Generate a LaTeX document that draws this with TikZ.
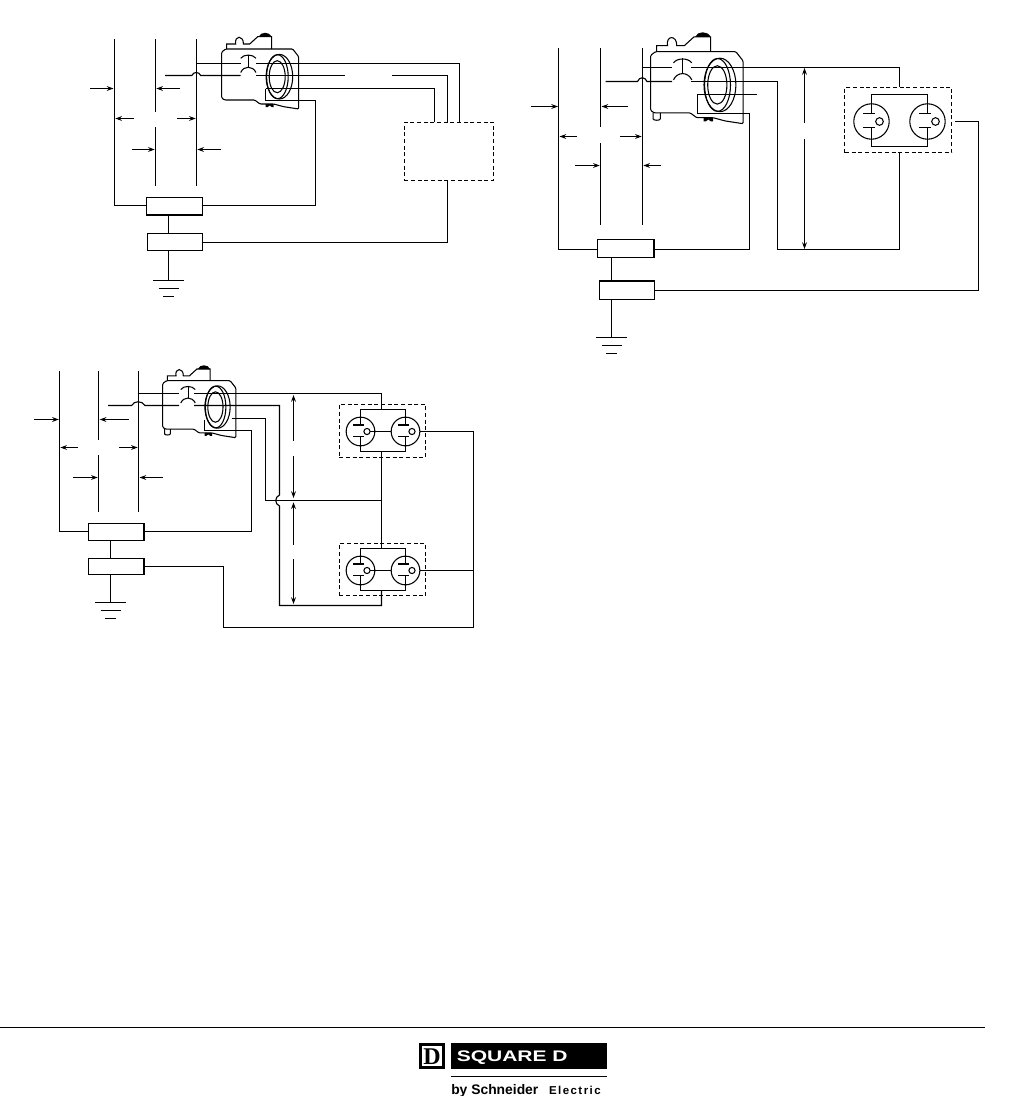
\documentclass[tikz,border=0pt]{standalone}
\usepackage{fontspec}
\usepackage{graphicx}
\setmainfont{Liberation Sans}
\newfontfamily\serifD{Liberation Serif}
\usetikzlibrary{arrows.meta}
\def\px{0.75pt}
\tikzset{
  wire/.style={line width=0.85pt,line join=miter},
  relaybox/.style={draw,line width=0.9pt,inner sep=0pt,fill=white},
  dashbox/.style={draw,line width=0.8pt,dash pattern=on 3pt off 2pt},
  dim/.style={line width=0.8pt,-{Stealth[length=5pt,width=3.6pt]}},
  thin part/.style={line width=0.8pt},
  device/.pic={
    \draw[thin part,rounded corners=0.8pt] (0,3) -- (4,0) -- (71,0) -- (77,7.7) -- (77,60) -- (62,57.7) -- (52,55) -- (38.3,55) -- (33,51) -- (3,51) -- (0,49) -- cycle;
    \draw[thin part] (5,0) -- (5,-5) -- (14,-5) .. controls (12.5,-14) and (22,-14) .. (21.7,-5) -- (28,-5) -- (36,-12.3) -- (50,-12.3) -- (50,0);
    \fill (37,-12.3) .. controls (39,-17.5) and (47.5,-17.5) .. (50,-12.3) -- cycle;
    \fill (44,55) -- (52,55) -- (52,58) -- (50,58) -- (48,56.5) -- (46,58) -- (44,58) -- cycle;
    \draw[thin part] (57.7,27.7) ellipse (13.3 and 22.3);
    \draw[thin part] (55.7,27.7) ellipse (10.8 and 22);
    \draw[thin part] (55.5,27.7) ellipse (8 and 16);
    \draw[thin part] (19,9.3) .. controls (22,5) and (31,5) .. (34.3,9.3);
    \draw[thin part] (26.7,5.5) -- (26.7,17.7);
    \draw[thin part] (19,23.5) .. controls (22,16.5) and (31,16.5) .. (34.3,23.5);
  },
  peg/.pic={
    \draw[thin part] (2,51) -- (2,56) .. controls (2,57.5) and (8,57.5) .. (8,56) -- (8,51);
  },
  lamp/.pic={
    \draw[thin part] (0,0) circle (17.7);
    \draw[thin part] (0,-17.7) -- (0,-8);
    \draw[thin part] (-8.7,-8) -- (3.7,-8);
    \draw[thin part] (-8.7,6.3) -- (3.7,6.3);
    \draw[thin part] (0,6.3) -- (0,17.7);
    \draw[thin part,fill=white] (8,0) circle (3.8);
  },
  ground/.pic={
    \draw[wire] (-15.5,0.2) -- (15.5,0.2);
    \draw[wire] (-10,8.2) -- (10,8.2);
    \draw[wire] (-5.5,16.2) -- (5.5,16.2);
  }
}
\begin{document}
\begin{tikzpicture}[x=\px,y=-\px]
\useasboundingbox (0,0) rectangle (1025,1096);

% ===== Diagram 1 =====
\coordinate (a1t) at (114.5,39); \coordinate (a1b) at (114.5,205.5);
\coordinate (b1t) at (155.5,39); \coordinate (b1m) at (155.5,111.7);
\coordinate (b1n) at (155.5,127); \coordinate (b1b) at (155.5,185.7);
\coordinate (c1t) at (196.5,39); \coordinate (c1b) at (196.5,185.7);
\draw[wire] (b1t) -- (b1m); \draw[wire] (b1n) -- (b1b); \draw[wire] (c1t) -- (c1b);
\pic at (221.7,49) {device};
\node[relaybox,minimum width=55.6*\px,minimum height=17.6*\px] (r1) at (174.5,206.2) {};
\node[relaybox,minimum width=55*\px,minimum height=16.6*\px] (s1) at (174.9,242.1) {};
\draw[wire] (a1t) -- (a1b) -- (r1.west |- a1b);
\draw[wire] (r1.south -| 168.5,0) -- (s1.north -| 168.5,0);
\coordinate (g1) at (168.5,280.3);
\draw[wire] (s1.south -| g1) -- (g1);
\pic at (g1) {ground};
\draw[dim] (90,88.5) -- (113.5,88.5);
\draw[dim] (180,88.5) -- (156.3,88.5);
\draw[dim] (134,118.5) -- (115.3,118.5);
\draw[dim] (177,118.5) -- (195.7,118.5);
\draw[dim] (132,149.5) -- (154.7,149.5);
\draw[dim] (220.7,149.5) -- (197.3,149.5);
\node[dashbox,minimum width=89.4*\px,minimum height=58*\px,inner sep=0pt] (q1) at (449,151.3) {};
% wires
\draw[wire] (c1t |- 0,63.5) -- (240.5,63.5);
\draw[wire] (256,63.5) -- (459.5,63.5) -- (459.5,122.3);
\draw[wire] (165,75.5) -- (191.8,75.5) .. controls (193.5,71.5) and (199,71.5) .. (200.7,75.5) -- (240.5,75.5);
\draw[wire] (256,75.5) -- (345,75.5);
\draw[wire] (392,75.5) -- (447.5,75.5) -- (447.5,122.3);
\draw[wire] (265.5,88.5) -- (434.5,88.5) -- (434.5,122.3);
\draw[wire] (265.5,88.5) -- (265.5,100.5) -- (315.5,100.5) -- (315.5,205.5) -- (r1.east |- 0,205.5);
\draw[wire] (s1.east |- 0,242.5) -- (447.5,242.5) -- (447.5,180.3);

% ===== Diagram 2 =====
\coordinate (a2t) at (558.5,48); \coordinate (a2b) at (558.5,249.5);
\draw[wire] (600.5,48) -- (600.5,126.7); \draw[wire] (600.5,143) -- (600.5,224.7);
\draw[wire] (642.5,48) -- (642.5,224.7);
\pic[scale=1.2] at (650.7,51.7) {device};
\pic[scale=1.2] at (650.7,51.7) {peg};
\node[relaybox,minimum width=56.7*\px,minimum height=18.4*\px] (r2) at (625.7,248.5) {};
\node[relaybox,minimum width=55*\px,minimum height=18.3*\px] (s2) at (626.9,290.2) {};
\draw[wire] (a2t) -- (a2b) -- (r2.west |- a2b);
\coordinate (g2) at (611.5,337.7);
\draw[wire] (r2.south -| g2) -- (s2.north -| g2);
\draw[wire] (s2.south -| g2) -- (g2);
\pic at (g2) {ground};
\draw[dim] (531,106.5) -- (558,106.5);
\draw[dim] (628,106.5) -- (601.5,106.5);
\draw[dim] (577,136.5) -- (559.5,136.5);
\draw[dim] (620,136.5) -- (641.7,136.5);
\draw[dim] (575,165.5) -- (599.7,165.5);
\draw[dim] (661,165.5) -- (643.3,165.5);
\node[dashbox,minimum width=106.7*\px,minimum height=65.4*\px,inner sep=0pt] (q2) at (898.3,120) {};
\coordinate (l2a) at (871.5,121.5); \coordinate (l2b) at (927.5,121.5);
\pic at (l2a) {lamp}; \pic at (l2b) {lamp};
\draw[wire] (871.5,103.8) -- (871.5,94.5) -- (927.5,94.5) -- (927.5,103.8);
\draw[wire] (871.5,139.2) -- (871.5,146.5) -- (927.5,146.5) -- (927.5,139.2);
\draw[wire] (642.5,67.5) -- (672,67.5);
\draw[wire] (691,67.5) -- (899.5,67.5) -- (899.5,87.3);
\draw[wire] (605.7,81.5) -- (637.5,81.5) .. controls (639.5,76.5) and (645,76.5) .. (647,81.5) -- (672,81.5);
\draw[wire] (691,81.5) -- (777.5,81.5) -- (777.5,249.5) -- (899.5,249.5) -- (899.5,152.7);
\draw[wire] (757,94.5) -- (697.5,94.5) -- (697.5,113.5) -- (749.5,113.5) -- (749.5,249.5) -- (r2.east |- 0,249.5);
\draw[wire] (s2.east |- 0,290.5) -- (978.5,290.5) -- (978.5,121.5) -- (955,121.5);
\draw[dim] (804.5,122.7) -- (804.5,68);
\draw[dim] (804.5,139) -- (804.5,249);

% ===== Diagram 3 =====
\coordinate (a3t) at (59.5,371); \coordinate (a3b) at (59.5,531.5);
\draw[wire] (98.5,371) -- (98.5,439.7); \draw[wire] (98.5,455) -- (98.5,511.7);
\draw[wire] (138.5,371) -- (138.5,511.7);
\pic[scale=0.95] at (162.7,380.7) {device};
\pic[scale=0.95] at (162.7,380.7) {peg};
\node[relaybox,minimum width=55.7*\px,minimum height=17.4*\px] (r3) at (116.2,532) {};
\node[relaybox,minimum width=55.7*\px,minimum height=16*\px] (s3) at (116.2,566.3) {};
\draw[wire] (a3t) -- (a3b) -- (r3.west |- a3b);
\coordinate (g3) at (110.5,602.3);
\draw[wire] (r3.south -| g3) -- (s3.north -| g3);
\draw[wire] (s3.south -| g3) -- (g3);
\pic at (g3) {ground};
\draw[dim] (34,419.5) -- (58.8,419.5);
\draw[dim] (129,419.5) -- (99.7,419.5);
\draw[dim] (78,447.5) -- (60.3,447.5);
\draw[dim] (119,447.5) -- (137.7,447.5);
\draw[dim] (73,477.5) -- (97.7,477.5);
\draw[dim] (163,477.5) -- (139.5,477.5);
\node[dashbox,minimum width=86.4*\px,minimum height=53*\px,inner sep=0pt] (q3) at (382.5,430.8) {};
\node[dashbox,minimum width=86.4*\px,minimum height=52.3*\px,inner sep=0pt] (q4) at (382.5,569.8) {};
\pic[scale=0.81] at (360.5,431.5) {lamp}; \pic[scale=0.81] at (405.5,431.5) {lamp};
\pic[scale=0.81] at (360.5,570.5) {lamp}; \pic[scale=0.81] at (405.5,570.5) {lamp};
\draw[wire] (360.5,417.2) -- (360.5,409.5) -- (405.5,409.5) -- (405.5,417.2);
\draw[wire] (360.5,445.8) -- (360.5,451.5) -- (405.5,451.5) -- (405.5,445.8);
\draw[wire] (360.5,556.2) -- (360.5,548.5) -- (405.5,548.5) -- (405.5,556.2);
\draw[wire] (360.5,584.8) -- (360.5,590.5) -- (405.5,590.5) -- (405.5,584.8);
\draw[wire] (369.5,431.5) -- (391.2,431.5);
\draw[wire] (369.5,570.5) -- (391.2,570.5);
% feed wires
\draw[wire] (138.5,393.5) -- (179,393.5);
\draw[wire] (194,393.5) -- (381.5,393.5) -- (381.5,409.5);
\draw[wire] (381.5,451.5) -- (381.5,548.5);
\draw[wire] (381.5,590.5) -- (381.5,605.5) -- (279.5,605.5) -- (279.5,506) .. controls (274.5,504) and (274.5,497) .. (279.5,495) -- (279.5,405.5) -- (194,405.5);
\draw[wire] (108,405.5) -- (131.7,405.5) .. controls (134,400.5) and (142,400.5) .. (145,405.5) -- (179,405.5);
\draw[wire] (231.7,418.5) -- (265.5,418.5) -- (265.5,500.5) -- (381.5,500.5);
\draw[wire] (204.5,419.5) -- (204.5,430.5) -- (251.5,430.5) -- (251.5,531.5) -- (r3.east |- 0,531.5);
\draw[wire] (s3.east |- 0,566.5) -- (223.5,566.5) -- (223.5,627.5) -- (473.5,627.5) -- (473.5,431.5) -- (419.8,431.5);
\draw[wire] (473.5,570.5) -- (419.8,570.5);
\draw[dim] (293.5,440.7) -- (293.5,395);
\draw[dim] (293.5,456) -- (293.5,498);
\draw[dim] (293.5,545) -- (293.5,502.3);
\draw[dim] (293.5,559) -- (293.5,604);

% ===== Footer =====
\coordinate (rl) at (0,1027.5); \coordinate (rr) at (985,1027.5);
\draw[line width=1pt] (rl) -- (rr);
\fill (419,1043.3) rectangle (445,1069);
\fill[white] (421.7,1046) rectangle (442.3,1066.3);
\node[inner sep=0pt,text=black] (dmark) at (432,1056.2) {\serifD\bfseries\fontsize{18}{18}\selectfont D};
\fill (451,1043.3) rectangle (607,1069);
\node[inner sep=0pt,anchor=base west,text=white] (sq) at (456.5,1061.5) {\scalebox{1.37}[1]{\bfseries\fontsize{11.5}{12}\selectfont SQUARE D}};
\coordinate (ll) at (451,1076.5); \coordinate (lr) at (607,1076.5);
\draw[line width=0.75pt] (ll) -- (lr);
\node[inner sep=0pt,anchor=base west] (by) at (451,1094) {\bfseries\fontsize{10.4}{11}\selectfont by Schneider};
\node[inner sep=0pt,anchor=base east] (el) at (601,1094) {\bfseries\fontsize{8.6}{10}\selectfont E\kern1.1pt l\kern1.1pt e\kern1.1pt c\kern1.1pt t\kern1.1pt r\kern1.1pt i\kern1.1pt c};
\end{tikzpicture}
\end{document}
